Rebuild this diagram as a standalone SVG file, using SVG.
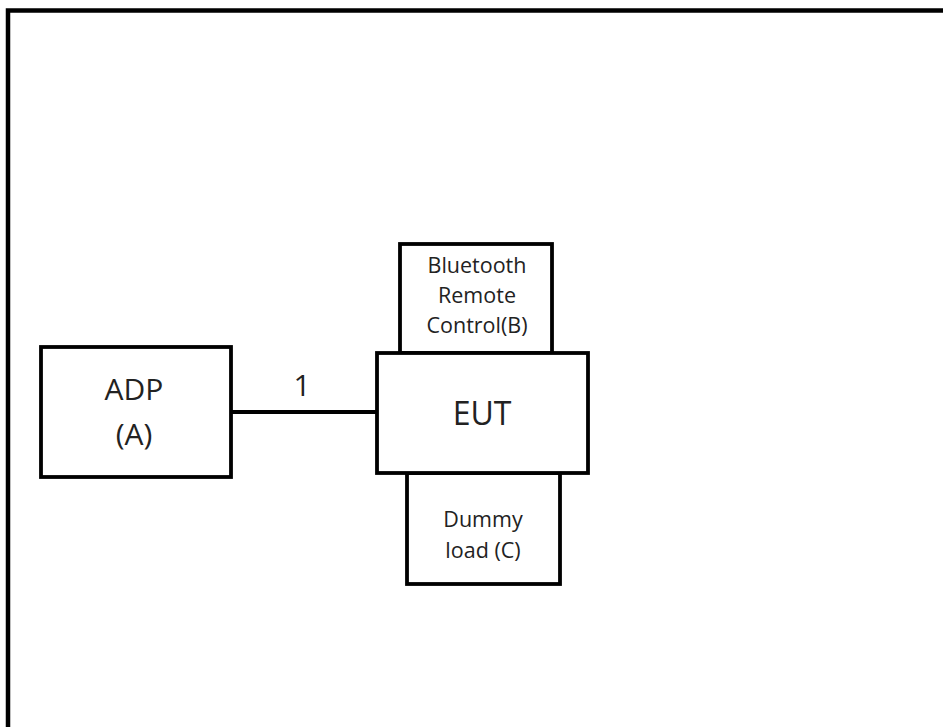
<svg xmlns="http://www.w3.org/2000/svg" width="943" height="727" viewBox="0 0 943 727">
<style>
.box{fill:#fff;stroke:#000;stroke-width:3.8}
.t{font-family:"Open Sans","Liberation Sans",sans-serif;fill:#222;text-anchor:middle}
.big{font-size:30px}
.eut{font-size:32px}
.sm{font-size:21.5px}
.wire{stroke:#000;stroke-width:3.8;fill:none}
</style>
<rect x="0" y="0" width="943" height="727" fill="#fff"/>
<rect x="8" y="10.5" width="1000" height="1000" fill="none" stroke="#000" stroke-width="4.5"/>
<g id="connectors">
<line class="wire" x1="231" y1="412" x2="377" y2="412"/>
<text class="t big" x="302" y="396">1</text>
</g>
<g id="nodeB">
<rect class="box" x="400" y="244" width="152" height="109"/>
<text class="t sm" x="477" y="273">Bluetooth</text>
<text class="t sm" x="477" y="303">Remote</text>
<text class="t sm" x="477" y="333">Control(B)</text>
</g>
<g id="nodeC">
<rect class="box" x="407" y="473" width="153" height="111"/>
<text class="t sm" x="483" y="527">Dummy</text>
<text class="t sm" x="483" y="558">load (C)</text>
</g>
<g id="nodeEUT">
<rect class="box" x="377" y="353" width="211" height="120"/>
<text class="t eut" x="482" y="425">EUT</text>
</g>
<g id="nodeA">
<rect class="box" x="41" y="347" width="190" height="130"/>
<text class="t big" x="134" y="400">ADP</text>
<text class="t big" x="134" y="445">(A)</text>
</g>
</svg>
